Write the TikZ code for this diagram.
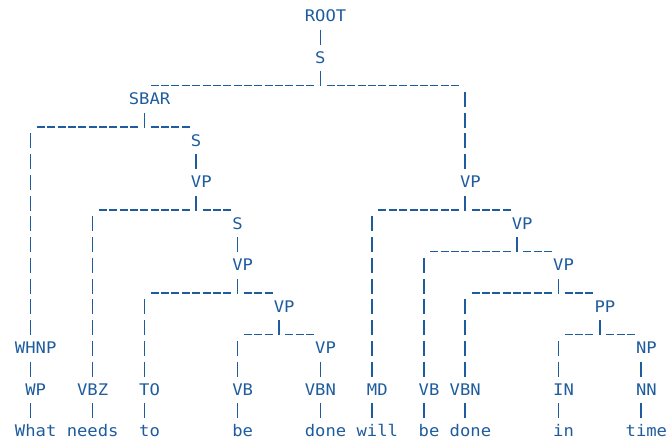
\documentclass[tikz,border=0pt]{standalone}
\usepackage{fontspec}
\usetikzlibrary{calc}
\newfontfamily\treefont[FakeStretch=1.075]{DejaVu Sans Mono}
\definecolor{treeblue}{RGB}{30,92,158}
\tikzset{
  lbl/.style={anchor=base west, inner sep=0pt, outer sep=0pt, text=treeblue,
    font=\treefont\fontsize{16pt}{16pt}\selectfont, yshift=-5.83pt},
  vbar/.style={draw=treeblue, line width=1.6pt, dash pattern=on 15pt off 5.75pt},
  hbar/.style={draw=treeblue, line width=1.4pt, dash pattern=on 8pt off 2.35pt, dash phase=9.15pt},
}
% name, label, start column, stem column, row
\newcommand\tn[5]{\node[lbl] (#1) at (#3,#5) {#2}; \coordinate (#1-s) at ({#4+0.5},#5);}
% unary connector parent -> child
\newcommand\uedge[2]{\draw[vbar] ([yshift=-13.75pt]#1-s) -- ([yshift=12.75pt]#2-s);}
% binary bracket: parent, left child, right child
\newcommand\bedge[3]{%
  \draw[vbar] ([yshift=-13.75pt]#1-s) -- ([yshift=-28.75pt]#1-s);
  \draw[hbar] ($(#2-s |- #1-s)+(5.175pt,-28.1pt)$) -- ($(#1-s)+(-5.175pt,-28.1pt)$);
  \draw[hbar] ($(#1-s)+(5.175pt,-28.1pt)$) -- ($(#3-s |- #1-s)+(-5.175pt,-28.1pt)$);}
% drop from bracket line down to a child further below
\newcommand\ldrop[2]{\draw[vbar] ($(#2-s |- #1-s)+(0,-34.5pt)$) -- ([yshift=12.75pt]#2-s);}

\begin{document}
\begin{tikzpicture}[x=10.35pt, y=-20.75pt]
\useasboundingbox (-15pt,15.8pt) rectangle (652pt,-425.2pt);
% phrase nodes
\tn{ROOT}{ROOT}{28}{29}{0}
\tn{S1}{S}{29}{29}{2}
\tn{SBAR}{SBAR}{11}{12}{4}
\tn{S2}{S}{17}{17}{6}
\tn{VP1}{VP}{43}{43}{8}
\tn{VP2}{VP}{17}{17}{8}
\tn{S3}{S}{21}{21}{10}
\tn{VP6}{VP}{48}{48}{10}
\tn{VP3}{VP}{21}{21}{12}
\tn{VP7}{VP}{52}{52}{12}
\tn{VP4}{VP}{25}{25}{14}
\tn{PP}{PP}{56}{56}{14}
\tn{WHNP}{WHNP}{0}{1}{16}
\tn{VP5}{VP}{29}{29}{16}
\tn{NP}{NP}{60}{60}{16}
% preterminals
\tn{WP}{WP}{1}{1}{18}
\tn{VBZ}{VBZ}{6}{7}{18}
\tn{TO}{TO}{12}{12}{18}
\tn{VBa}{VB}{21}{21}{18}
\tn{VBNa}{VBN}{28}{29}{18}
\tn{MD}{MD}{34}{34}{18}
\tn{VBb}{VB}{39}{39}{18}
\tn{VBNb}{VBN}{42}{43}{18}
\tn{IN}{IN}{52}{52}{18}
\tn{NN}{NN}{60}{60}{18}
% words
\tn{wWhat}{What}{0}{1}{20}
\tn{wNeeds}{needs}{5}{7}{20}
\tn{wTo}{to}{12}{12}{20}
\tn{wBeA}{be}{21}{21}{20}
\tn{wDoneA}{done}{28}{29}{20}
\tn{wWill}{will}{33}{34}{20}
\tn{wBeB}{be}{39}{39}{20}
\tn{wDoneB}{done}{42}{43}{20}
\tn{wIn}{in}{52}{52}{20}
\tn{wTime}{time}{59}{60}{20}
% connectors
\uedge{ROOT}{S1}
\bedge{S1}{SBAR}{VP1}
\ldrop{S1}{VP1}
\bedge{SBAR}{WHNP}{S2}
\ldrop{SBAR}{WHNP}
\uedge{S2}{VP2}
\bedge{VP2}{VBZ}{S3}
\ldrop{VP2}{VBZ}
\uedge{S3}{VP3}
\bedge{VP3}{TO}{VP4}
\ldrop{VP3}{TO}
\bedge{VP4}{VBa}{VP5}
\ldrop{VP4}{VBa}
\uedge{VP5}{VBNa}
\bedge{VP1}{MD}{VP6}
\ldrop{VP1}{MD}
\bedge{VP6}{VBb}{VP7}
\ldrop{VP6}{VBb}
\bedge{VP7}{VBNb}{PP}
\ldrop{VP7}{VBNb}
\bedge{PP}{IN}{NP}
\ldrop{PP}{IN}
\uedge{NP}{NN}
\uedge{WHNP}{WP}
\uedge{WP}{wWhat}
\uedge{VBZ}{wNeeds}
\uedge{TO}{wTo}
\uedge{VBa}{wBeA}
\uedge{VBNa}{wDoneA}
\uedge{MD}{wWill}
\uedge{VBb}{wBeB}
\uedge{VBNb}{wDoneB}
\uedge{IN}{wIn}
\uedge{NN}{wTime}
\end{tikzpicture}
\end{document}
